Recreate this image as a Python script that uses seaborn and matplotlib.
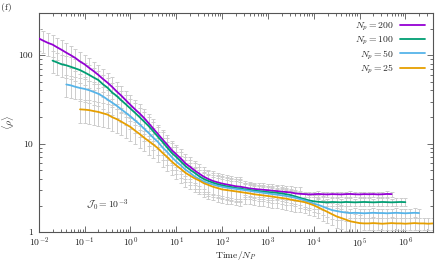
import matplotlib

matplotlib.use("Agg")
import matplotlib.pyplot as plt
import numpy as np
import pandas as pd
import seaborn as sns
from matplotlib.ticker import FuncFormatter, LogLocator, NullFormatter

# Time / N_P grid, log spaced (0.1 decade), shared by all runs
TIME = np.logspace(-2.0, 6.6, 87)

SIZES = [200, 100, 50, 25]
LABELS = [r"$N_p = 200$", r"$N_p = 100$", r"$N_p = 50$", r"$N_p = 25$"]
COLORS = ["#9400d3", "#009e73", "#56b4e9", "#e69f00"]
START = [0, 3, 6, 9]  # first TIME index of each run (t0 = 2 / N_p)

RHO_200 = [
    155, 146, 138, 132, 123, 115, 107, 100, 93, 85,
    79, 72, 66, 60, 54, 49, 44, 39, 35, 31,
    27.5, 24.5, 22, 19.5, 17, 14.8, 12.9, 11.2, 9.8, 8.5,
    7.6, 6.8, 6.0, 5.5, 5.0, 4.6, 4.25, 4.0, 3.8, 3.67,
    3.55, 3.47, 3.39, 3.31, 3.27, 3.2, 3.13, 3.09, 3.05, 3.02,
    2.99, 2.95, 2.92, 2.88, 2.85, 2.82, 2.75, 2.72, 2.70, 2.68,
    2.69, 2.71, 2.69, 2.68, 2.70, 2.69, 2.68, 2.70, 2.71, 2.69,
    2.68, 2.70, 2.69, 2.70, 2.68, 2.69, 2.71, 2.70,
]
RHO_100 = [
    87, 83, 79, 77, 74, 71, 68, 64, 60, 56,
    52.5, 47, 43, 38, 34.7, 31, 27.9, 25, 22.4, 20,
    17.8, 15.8, 13.8, 12, 10.5, 9.1, 7.9, 7.1, 6.3, 5.6,
    5.1, 4.7, 4.3, 4.0, 3.8, 3.63, 3.5, 3.39, 3.31, 3.24,
    3.16, 3.13, 3.05, 3.02, 2.95, 2.92, 2.88, 2.85, 2.82, 2.79,
    2.75, 2.69, 2.63, 2.54, 2.45, 2.37, 2.29, 2.24, 2.21, 2.19,
    2.18, 2.20, 2.19, 2.18, 2.20, 2.19, 2.18, 2.19, 2.20, 2.19,
    2.18, 2.19, 2.20, 2.19, 2.18, 2.19, 2.20, 2.19,
]
RHO_50 = [
    46.8, 45.7, 44, 42.7, 41.7, 40.3, 38.5, 36.7, 34.3, 31.6,
    29.2, 26.9, 24.5, 22.4, 20.4, 18.4, 16.6, 14.8, 13.2, 11.7,
    10.5, 9.1, 8.1, 7.1, 6.3, 5.7, 5.1, 4.7, 4.27, 4.0,
    3.76, 3.59, 3.47, 3.35, 3.27, 3.2, 3.14, 3.09, 3.04, 2.99,
    2.94, 2.88, 2.84, 2.79, 2.75, 2.70, 2.66, 2.62, 2.57, 2.51,
    2.45, 2.37, 2.29, 2.21, 2.11, 2.04, 1.95, 1.86, 1.78, 1.74,
    1.70, 1.67, 1.65, 1.66, 1.65, 1.64, 1.65, 1.66, 1.65, 1.65,
    1.64, 1.65, 1.66, 1.65, 1.64, 1.65, 1.66, 1.65,
]
RHO_25 = [
    24.5, 24.3, 24, 23.4, 22.9, 22.1, 21.4, 20, 19, 17.8,
    16.6, 15.5, 14.1, 12.9, 11.7, 10.7, 9.8, 8.9, 7.9, 7.1,
    6.3, 5.7, 5.2, 4.7, 4.37, 4.07, 3.85, 3.59, 3.43, 3.27,
    3.16, 3.05, 3.0, 2.95, 2.9, 2.85, 2.8, 2.75, 2.69, 2.65,
    2.61, 2.57, 2.53, 2.48, 2.44, 2.4, 2.34, 2.29, 2.24, 2.19,
    2.11, 2.02, 1.91, 1.8, 1.7, 1.6, 1.51, 1.45, 1.39, 1.33,
    1.30, 1.27, 1.26, 1.26, 1.27, 1.26, 1.25, 1.26, 1.27, 1.26,
    1.26, 1.25, 1.26, 1.27, 1.26, 1.26, 1.25, 1.26,
]

# relative error bars (fraction of <rho>)
REL_ERR_200 = [0.28] * 45 + [0.18] * 13 + [0.07] * 20
REL_ERR_100 = [0.28] * 42 + [0.18] * 18 + [0.10] * 18
REL_ERR_50 = [0.28] * 39 + [0.20] * 23 + [0.12] * 16
REL_ERR_25 = [0.30] * 36 + [0.25] * 26 + [0.16] * 16

RHO = [RHO_200, RHO_100, RHO_50, RHO_25]
REL_ERR = [REL_ERR_200, REL_ERR_100, REL_ERR_50, REL_ERR_25]


def build_frame() -> pd.DataFrame:
    parts = []
    for label, start, rho, rel in zip(LABELS, START, RHO, REL_ERR):
        rho = np.asarray(rho, dtype=float)
        t = TIME[start : start + len(rho)]
        parts.append(
            pd.DataFrame(
                {"time": t, "rho": rho, "err": rho * np.asarray(rel), "label": label}
            )
        )
    return pd.concat(parts, ignore_index=True)


def main() -> None:
    sns.set_theme(style="ticks")
    plt.rcParams["font.family"] = "cmr10"
    plt.rcParams["mathtext.fontset"] = "cm"
    plt.rcParams["axes.formatter.use_mathtext"] = True

    df = build_frame()

    fig = plt.figure(figsize=(4.36, 2.61), dpi=100)
    ax = fig.add_axes([0.089, 0.11, 0.904, 0.84])
    ax.set_xscale("log")
    ax.set_yscale("log")

    for label in LABELS:
        sub = df[df["label"] == label]
        ax.errorbar(
            sub["time"], sub["rho"], yerr=sub["err"], fmt="none",
            ecolor="#cdcdcd", elinewidth=0.7, capsize=1.3, capthick=0.7, zorder=1,
        )

    sns.lineplot(
        data=df, x="time", y="rho", hue="label", hue_order=LABELS,
        palette=dict(zip(LABELS, COLORS)), linewidth=1.3, errorbar=None,
        sort=True, ax=ax, zorder=3,
    )

    ax.set_xlim(1e-2, 4e6)
    ax.set_ylim(1, 300)

    ax.xaxis.set_major_locator(LogLocator(base=10, numticks=20))
    ax.xaxis.set_minor_locator(LogLocator(base=10, subs=np.arange(2, 10), numticks=20))
    ax.xaxis.set_minor_formatter(NullFormatter())
    ax.yaxis.set_major_locator(LogLocator(base=10, numticks=10))
    ax.yaxis.set_minor_locator(LogLocator(base=10, subs=np.arange(2, 10), numticks=10))
    ax.yaxis.set_major_formatter(FuncFormatter(lambda v, _: f"{v:g}"))
    ax.yaxis.set_minor_formatter(NullFormatter())

    for side in ["left", "right", "top", "bottom"]:
        ax.spines[side].set_color("#555555")
        ax.spines[side].set_linewidth(0.8)
    ax.tick_params(which="both", direction="in", top=True, right=True,
                   color="#555555", width=0.6, labelsize=7, labelcolor="#222222")
    ax.tick_params(axis="x", pad=2.5)
    ax.tick_params(axis="y", pad=4)
    ax.tick_params(which="major", length=4)
    ax.tick_params(which="minor", length=2)

    ax.set_xlabel(r"Time/$N_P$", fontsize=7, labelpad=-0.5)
    ax.set_ylabel(r"$\langle\rho\rangle$", fontsize=7, labelpad=2)
    ax.text(0.105, 2.0, r"$\mathcal{J}_0 = 10^{-3}$", fontsize=7, va="center")
    fig.text(0.003, 0.99, "(f)", fontsize=7, va="top")

    handles, labels = ax.get_legend_handles_labels()
    keep = [(h, l) for h, l in zip(handles, labels) if l in LABELS]
    ax.legend(
        [h for h, _ in keep], [l for _, l in keep], loc="upper right",
        markerfirst=False, frameon=False, fontsize=7, handlelength=2.6,
        labelspacing=0.15, borderaxespad=0.4, handletextpad=0.6,
    )

    fig.savefig("out.png", dpi=100)
    plt.close(fig)


if __name__ == "__main__":
    main()
